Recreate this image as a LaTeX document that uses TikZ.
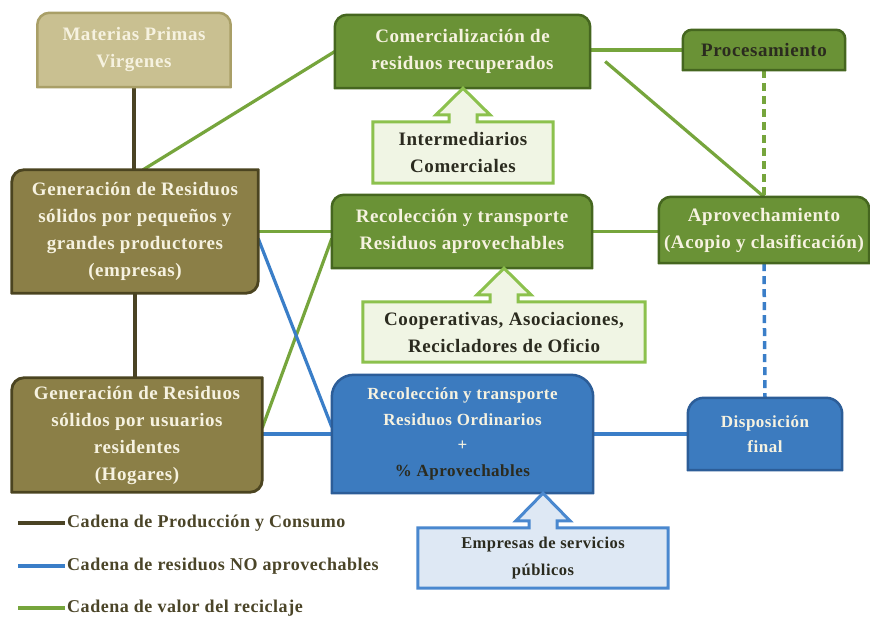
\documentclass[tikz,border=0pt]{standalone}
\usepackage{fontspec}
\setmainfont{Liberation Serif}[LetterSpace=3]
\usetikzlibrary{calc}

\definecolor{khakiFill}{HTML}{C9C091}
\definecolor{khakiLine}{HTML}{A99F67}
\definecolor{oliveFill}{HTML}{8B7F47}
\definecolor{oliveLine}{HTML}{4B4420}
\definecolor{greenFill}{HTML}{6A9236}
\definecolor{greenLine}{HTML}{45661F}
\definecolor{paleGreenFill}{HTML}{F0F5E4}
\definecolor{paleGreenLine}{HTML}{8CC14D}
\definecolor{blueFill}{HTML}{3C7BBF}
\definecolor{blueLine}{HTML}{2C5D98}
\definecolor{paleBlueFill}{HTML}{DEE8F4}
\definecolor{paleBlueLine}{HTML}{4A88CF}
\definecolor{darkLink}{HTML}{4A4324}
\definecolor{greenLink}{HTML}{76A53C}
\definecolor{blueLink}{HTML}{3A7EC8}
\definecolor{creamText}{HTML}{F6F2E0}
\definecolor{darkText}{HTML}{2B2B1F}
\definecolor{legendText}{HTML}{4B4528}

\pgfdeclarelayer{paper}
\pgfdeclarelayer{links}
\pgfdeclarelayer{shapes}
\pgfsetlayers{paper,links,shapes,main}

% box outline with an individual radius per corner: TL, TR, BR, BL
\newcommand\cornerbox[6]{%
  \path[#2] ($(#1.south west)+(0pt,#6)$) -- ($(#1.north west)+(0pt,-#3)$)
    arc[start angle=180,end angle=90,radius=#3] -- ($(#1.north east)+(-#4,0pt)$)
    arc[start angle=90,end angle=0,radius=#4] -- ($(#1.south east)+(0pt,#5)$)
    arc[start angle=0,end angle=-90,radius=#5] -- ($(#1.south west)+(#6,0pt)$)
    arc[start angle=270,end angle=180,radius=#6] -- cycle;}

% box with an upward arrow whose tip touches the box above it
\newcommand\arrowbox[3]{%
  \path[#3] (#1.south west) -- (#1.north west) -- ($(#1.north)+(-14pt,0pt)$)
    -- ($(#1.north)+(-14pt,7pt)$) -- ($(#1.north)+(-27pt,7pt)$)
    -- (#1.north |- #2.south) -- ($(#1.north)+(27pt,7pt)$)
    -- ($(#1.north)+(14pt,7pt)$) -- ($(#1.north)+(14pt,0pt)$)
    -- (#1.north east) -- (#1.south east) -- cycle;}

\tikzset{
  box/.style={inner sep=0pt, align=center, font=\bfseries\fontsize{19}{27}\selectfont},
  khakibox/.style={fill=khakiFill, draw=khakiLine, line width=2.5pt},
  olivebox/.style={fill=oliveFill, draw=oliveLine, line width=2.8pt},
  greenbox/.style={fill=greenFill, draw=greenLine, line width=2.5pt},
  bluebox/.style={fill=blueFill, draw=blueLine, line width=2.5pt},
  palegreen/.style={fill=paleGreenFill, draw=paleGreenLine, line width=3pt, line join=miter},
  paleblue/.style={fill=paleBlueFill, draw=paleBlueLine, line width=3pt, line join=miter},
  prodlink/.style={draw=darkLink, line width=3.4pt},
  greenlink/.style={draw=greenLink, line width=3.2pt},
  bluelink/.style={draw=blueLink, line width=3.2pt},
  dashlink/.style={dash pattern=on 8pt off 5pt, line width=3.5pt},
  legend/.style={anchor=west, inner sep=0pt, text=legendText, font=\bfseries\fontsize{18}{22}\selectfont},
}

\begin{document}
\begin{tikzpicture}[x=1pt, y=-1pt]
\useasboundingbox (0,0) rectangle (870,619);
\begin{pgfonlayer}{paper}
  \fill[white] (0,0) rectangle (870,619);
\end{pgfonlayer}

% ---- text of the boxes ----
\node[box, text=creamText, minimum width=193pt, minimum height=74pt] (mat) at (134,50)
  {Materias Primas\\Virgenes};
\node[box, text=creamText, minimum width=246pt, minimum height=123pt] (gen1) at (135,231.5)
  {Generación de Residuos\\sólidos por pequeños y\\grandes productores\\(empresas)};
\node[box, text=creamText, minimum width=250pt, minimum height=114pt] (gen2) at (137,435)
  {Generación de Residuos\\sólidos por usuarios\\residentes\\(Hogares)};
\node[box, text=creamText, minimum width=255pt, minimum height=73pt] (com) at (462.5,51.5)
  {Comercialización de\\residuos recuperados};
\node[box, text=darkText, minimum width=180pt, minimum height=61pt] (int) at (463,152.5)
  {Intermediarios\\Comerciales};
\node[box, text=creamText, minimum width=260pt, minimum height=73pt] (rap) at (462,231.5)
  {Recolección y transporte\\Residuos aprovechables};
\node[box, text=darkText, minimum width=282pt, minimum height=60pt] (coop) at (504,332)
  {Cooperativas, Asociaciones,\\Recicladores de Oficio};
\node[box, text=darkText, minimum width=162pt, minimum height=40pt] (pro) at (764,50)
  {Procesamiento};
\node[box, text=creamText, minimum width=210pt, minimum height=66pt] (apr) at (764,230)
  {Aprovechamiento\\(Acopio y clasificación)};
\node[box, text=creamText, minimum width=261pt, minimum height=118pt,
      font=\bfseries\fontsize{17}{25.5}\selectfont] (rord) at (462.5,434)
  {Recolección y transporte\\Residuos Ordinarios\\+\\\textcolor{darkText}{\% Aprovechables}};
\node[box, text=darkText, minimum width=250pt, minimum height=60pt,
      font=\bfseries\fontsize{16.5}{27}\selectfont] (emp) at (543,558)
  {Empresas de servicios\\públicos};
\node[box, text=creamText, minimum width=154pt, minimum height=72pt,
      font=\bfseries\fontsize{17}{25}\selectfont] (disp) at (765,434)
  {Disposición\\final};

% ---- box shapes ----
\begin{pgfonlayer}{shapes}
  \cornerbox{mat}{khakibox}{12pt}{12pt}{0.01pt}{0.01pt}
  \cornerbox{gen1}{olivebox}{12pt}{0.01pt}{12pt}{0.01pt}
  \cornerbox{gen2}{olivebox}{12pt}{0.01pt}{12pt}{0.01pt}
  \cornerbox{com}{greenbox}{12pt}{12pt}{0.01pt}{0.01pt}
  \cornerbox{rap}{greenbox}{12pt}{12pt}{0.01pt}{0.01pt}
  \cornerbox{pro}{greenbox}{9pt}{9pt}{0.01pt}{0.01pt}
  \cornerbox{apr}{greenbox}{12pt}{12pt}{0.01pt}{0.01pt}
  \cornerbox{rord}{bluebox}{22pt}{22pt}{0.01pt}{0.01pt}
  \cornerbox{disp}{bluebox}{16pt}{16pt}{0.01pt}{0.01pt}
  \arrowbox{int}{com}{palegreen}
  \arrowbox{coop}{rap}{palegreen}
  \arrowbox{emp}{rord}{paleblue}
\end{pgfonlayer}

% ---- connectors ----
\coordinate (comout) at ($(com.east)+(15pt,-10pt)$);
\begin{pgfonlayer}{links}
  \draw[prodlink] (mat.south) -- (mat.south |- gen1.north);
  \draw[prodlink] (gen1.south) -- (gen1.south |- gen2.north);

  \draw[greenlink] ([xshift=8pt]gen1.north) -- (com.west);
  \draw[greenlink] (pro.west -| com.east) -- (pro.west);
  \draw[greenlink] (comout) -- (apr.north);
  \draw[greenlink, dashlink] (pro.south) -- (apr.north);
  \draw[greenlink] (gen1.east) -- (rap.west);
  \draw[greenlink] ([yshift=7pt]gen2.east) -- ([yshift=-7pt]rap.west);
  \draw[greenlink] (rap.east) -- (rap.east -| apr.west);

  \draw[bluelink] ([yshift=-7pt]gen1.east) -- ([yshift=7pt]rord.west);
  \draw[bluelink] (rord.west -| gen2.east) -- (rord.west);
  \draw[bluelink] (rord.east) -- (disp.west);
  \draw[bluelink, dashlink] (apr.south) -- (disp.north);
\end{pgfonlayer}

% ---- legend ----
\node[legend] (lg1) at (67,523) {Cadena de Producción y Consumo};
\node[legend] (lg2) at (67,566) {Cadena de residuos NO aprovechables};
\node[legend] (lg3) at (67,608) {Cadena de valor del reciclaje};
\draw[prodlink, line width=4pt] ([xshift=-49pt]lg1.west) -- ([xshift=-2pt]lg1.west);
\draw[bluelink, line width=4pt] ([xshift=-49pt]lg2.west) -- ([xshift=-2pt]lg2.west);
\draw[greenlink, line width=4pt] ([xshift=-49pt]lg3.west) -- ([xshift=-2pt]lg3.west);
\end{tikzpicture}
\end{document}
